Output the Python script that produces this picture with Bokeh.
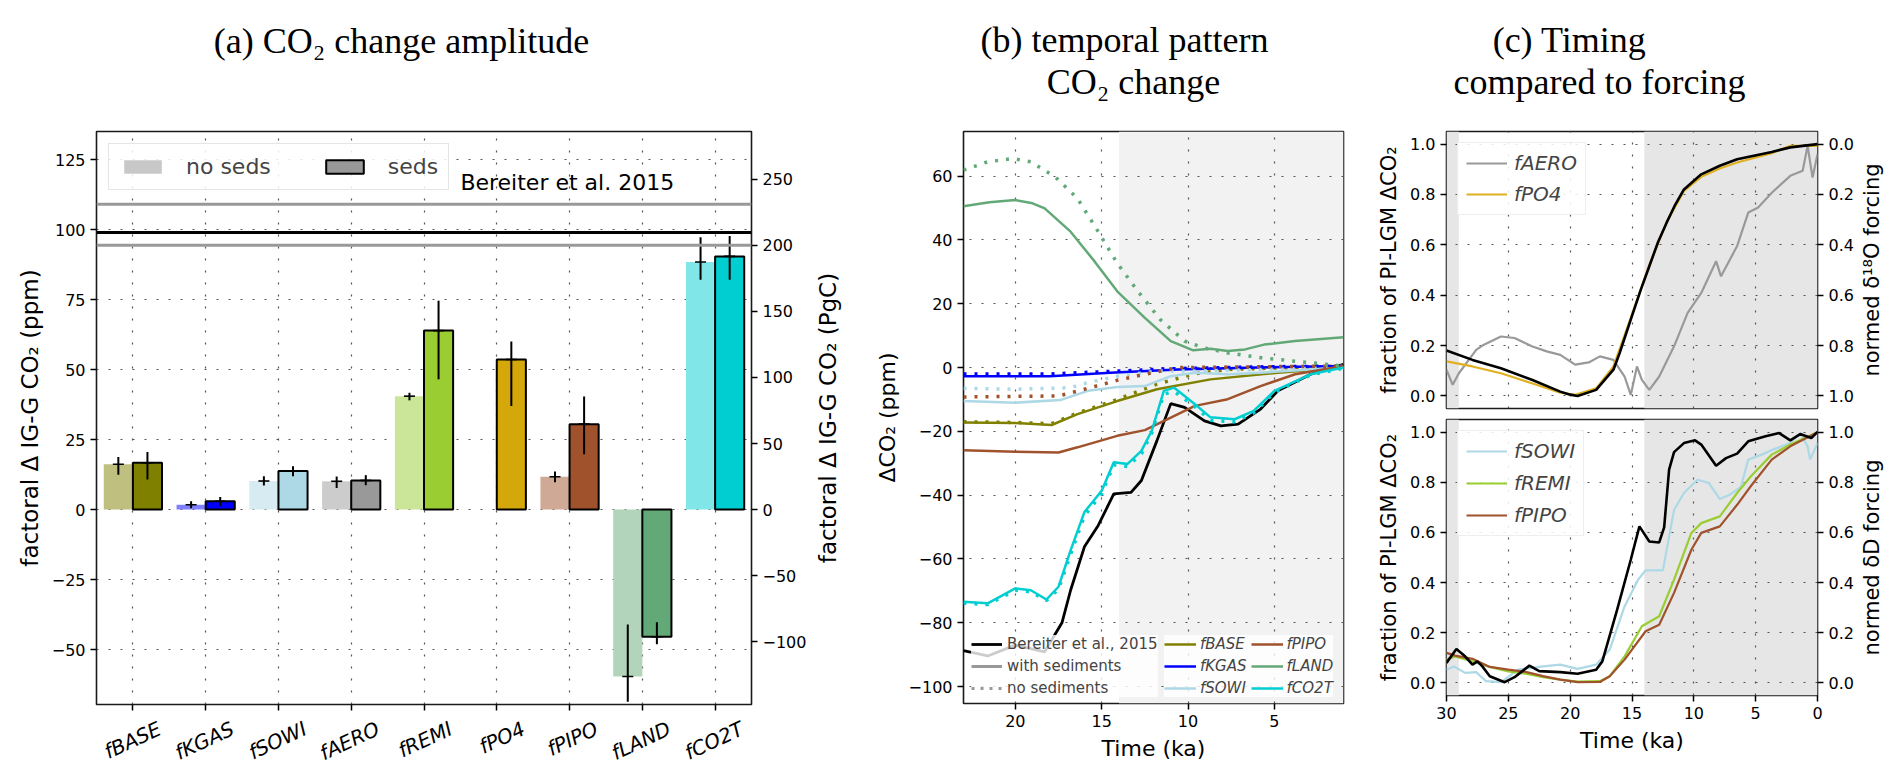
import math
from bokeh.plotting import figure
from bokeh.models import (Range1d, LinearAxis, FixedTicker, Legend, LegendItem,
                          BoxAnnotation, Label, ColumnDataSource, Span,
                          CustomJSTickFormatter, NumeralTickFormatter)
from bokeh.layouts import row, column
from bokeh.core.properties import value
from bokeh.embed import file_html
from bokeh.resources import INLINE

NAN = float("nan")

# ---------------- panel (a): factorial CO2 change amplitude ----------------
categories = ["fBASE", "fKGAS", "fSOWI", "fAERO", "fREMI", "fPO4", "fPIPO", "fLAND", "fCO2T"]
noseds_val = [16.2, 1.7, 10.2, 10.1, 40.5, NAN, 11.7, -59.6, 88.4]
noseds_lo = [12.4, 0.5, 8.6, 7.7, 39.0, NAN, 9.8, -68.6, 82.1]
noseds_hi = [18.8, 3.0, 11.9, 11.8, 41.7, NAN, 13.6, -41.0, 97.2]
seds_val = [16.7, 3.0, 13.8, 10.4, 63.9, 53.6, 30.5, -45.4, 90.4]
seds_lo = [10.7, 1.2, 11.9, 8.7, 46.5, 37.0, 19.8, -48.1, 82.1]
seds_hi = [20.6, 4.5, 15.5, 12.3, 74.6, 60.0, 40.4, -40.2, 97.7]
seds_colors = ["#808000", "#0000ff", "#add8e6", "#999999", "#9acd32", "#d4a80a", "#a0522d", "#63a977", "#00ced1"]
noseds_colors = ["#bfbf80", "#8080ff", "#d6ebf2", "#cccccc", "#cce699", "#e9d384", "#cfa896", "#b1d4bb", "#80e6e8"]
bereiter_mean = 98.9
bereiter_upper = 109.0
bereiter_lower = 94.4
ppm_to_pgc = 2.12
ticks_a_left = [-50, -25, 0, 25, 50, 75, 100, 125]
ticks_a_right = [-100, -50, 0, 50, 100, 150, 200, 250]

# ---------------- panel (b): temporal pattern (ka, ppm) ----------------
t_bereiter = [23, 21.6, 20, 18.3, 17.3, 16.8, 16, 15.2, 14.3, 13.3, 12.7, 11.8, 11, 10.2, 9.05, 8.1, 7.1, 5.8, 4.8, 2.9, 1.0]
co2_bereiter = [-88.7, -90.4, -87.0, -89.1, -80.0, -69.8, -56.2, -49.5, -39.6, -39.1, -35.4, -22.9, -11.3, -12.5, -16.7, -18.3, -17.7, -13.0, -7.3, -2.1, 1.0]

t_base_sed = [23, 20, 17.9, 16.4, 14.1, 11.8, 8.7, 4.8, 1.0]
base_sed = [-17.2, -17.4, -18.0, -14.6, -10.5, -6.8, -3.7, -1.6, 0.0]
t_base_nosed = [23, 20, 17.9, 16.4, 14.1, 11.8, 9.6, 7.7, 1.0]
base_nosed = [-17.0, -17.2, -17.6, -14.2, -10.0, -5.2, -1.9, -0.6, 0.5]

t_kgas_sed = [23, 18, 14.5, 10.6, 6, 1.0]
kgas_sed = [-2.7, -2.7, -1.6, -0.6, 0.0, 0.5]
t_kgas_nosed = [23, 18, 14.5, 10.6, 6, 1.0]
kgas_nosed = [-2.0, -2.0, -1.2, -0.3, 0.2, 0.5]

t_sowi_sed = [23, 20, 17.4, 15.8, 14.1, 12.5, 11, 9.6, 7.7, 5.8, 1.0]
sowi_sed = [-10.5, -11.0, -10.2, -7.3, -6.1, -5.8, -2.7, -1.6, -2.1, -1.6, 0.0]
t_sowi_nosed = [23, 20, 16.8, 15.8, 14.1, 11.8, 9.6, 1.0]
sowi_nosed = [-6.5, -6.8, -6.3, -4.7, -2.7, -1.1, -1.1, 0.0]

t_pipo_sed = [23, 20, 17.5, 16.4, 14.1, 12.5, 11, 9.6, 7.7, 5.8, 3.8, 1.0]
pipo_sed = [-25.9, -26.4, -26.6, -25.0, -21.4, -19.6, -15.7, -12.0, -9.9, -5.8, -2.1, 0.5]
t_pipo_nosed = [23, 17.5, 16, 14.1, 12.5, 10.6, 1.0]
pipo_nosed = [-9.2, -8.9, -6.8, -4.0, -2.1, 0.0, 0.5]

t_land_sed = [23, 21.5, 20, 19, 18.3, 16.8, 15.4, 14.1, 12.5, 11.0, 9.7, 8.7, 7.7, 6.7, 5.6, 3.8, 1.0]
land_sed = [50.6, 51.8, 52.5, 51.5, 49.9, 42.6, 33.2, 23.9, 15.6, 8.3, 5.4, 5.9, 5.2, 5.7, 7.2, 8.3, 9.5]
t_land_nosed = [23, 21.6, 20.15, 19.1, 17.7, 16.4, 15.2, 14.1, 12.9, 11.6, 10.2, 9.1, 7.7, 5.8, 3.8, 1.0]
land_nosed = [61.9, 64.5, 65.5, 64.5, 59.8, 53.0, 42.6, 32.7, 23.9, 15.0, 8.3, 6.2, 4.6, 3.1, 2.0, 0.5]

t_co2t_sed = [23, 21.6, 20, 19.1, 18.2, 17.5, 16.8, 16, 15, 14.3, 13.5, 12.7, 12.1, 11.4, 10.8, 9.6, 8.7, 7.3, 6.2, 5, 2.9, 1.0]
co2t_sed = [-73.4, -73.9, -69.2, -69.8, -72.7, -68.7, -57.3, -45.3, -38.6, -29.7, -30.2, -26.1, -19.8, -7.3, -6.3, -11.5, -15.6, -16.2, -13.6, -7.3, -2.1, 0.0]
t_co2t_nosed = [23, 21.6, 20, 19.1, 18.2, 17.5, 16.8, 16, 15, 14.3, 13.5, 12.7, 12.1, 11.4, 10.8, 9.6, 8.7, 7.3, 6.2, 5, 2.9, 1.0]
co2t_nosed = [-73.8, -74.3, -69.8, -70.3, -73.0, -69.5, -58.5, -46.5, -39.5, -30.5, -31.0, -27.0, -20.5, -8.3, -7.5, -12.3, -16.5, -17.0, -14.2, -7.8, -2.3, -0.2]

ticks_b_x = [20, 15, 10, 5]
ticks_b_y = [-100, -80, -60, -40, -20, 0, 20, 40, 60]

# ---------------- panel (c): timing compared to forcing ----------------
t_d18o = [30, 27.9, 25.6, 23.1, 20.8, 20.0, 19.4, 17.9, 16.5, 16.0, 15.1, 14.3, 13.6, 12.9, 12.2, 11.5, 10.8, 9.4, 7.9, 6.5, 3.7, 2.2, 0]
d18o_normed = [0.82, 0.857, 0.89, 0.936, 0.983, 0.995, 1.0, 0.976, 0.896, 0.83, 0.697, 0.58, 0.485, 0.39, 0.312, 0.24, 0.18, 0.12, 0.086, 0.06, 0.031, 0.013, 0.0]
t_po4 = [30, 27.9, 25.6, 23.1, 20.8, 19.6, 17.9, 16.5, 15.1, 13.6, 12.2, 10.8, 9.4, 7.9, 6.5, 3.7, 2.2, 0]
frac_po4 = [0.137, 0.117, 0.09, 0.05, 0.013, 0.004, 0.03, 0.117, 0.31, 0.52, 0.69, 0.814, 0.87, 0.903, 0.927, 0.964, 0.993, 0.993]
t_aero = [30, 29.5, 29.0, 28.2, 27.6, 27.1, 25.6, 24.5, 23.1, 21.9, 20.8, 19.6, 18.5, 17.6, 16.5, 15.6, 15.1, 14.6, 14.2, 13.6, 12.8, 11.6, 10.5, 9.4, 8.2, 7.8, 6.5, 5.6, 4.8, 3.7, 2.2, 1.2, 0.8, 0.4, 0]
frac_aero = [0.104, 0.044, 0.09, 0.143, 0.183, 0.2, 0.236, 0.23, 0.197, 0.177, 0.163, 0.124, 0.133, 0.157, 0.143, 0.077, 0.004, 0.117, 0.064, 0.024, 0.077, 0.197, 0.33, 0.409, 0.535, 0.475, 0.595, 0.728, 0.748, 0.807, 0.874, 0.894, 0.993, 0.867, 0.96]

t_dD = [30, 29.2, 28.5, 27.9, 27.5, 27.1, 26.5, 25.3, 24.5, 23.3, 22.5, 20.8, 19.4, 17.9, 17.4, 16.2, 15.1, 14.4, 13.6, 12.8, 12.4, 12.0, 11.6, 10.8, 9.9, 9.4, 8.2, 7.4, 6.5, 5.6, 4.2, 3.1, 2.2, 1.4, 0.5, 0]
dD_normed = [0.08, 0.135, 0.106, 0.073, 0.086, 0.066, 0.027, 0.003, 0.023, 0.069, 0.047, 0.043, 0.037, 0.053, 0.086, 0.292, 0.491, 0.624, 0.564, 0.56, 0.62, 0.85, 0.92, 0.956, 0.967, 0.95, 0.866, 0.896, 0.914, 0.963, 0.983, 0.996, 0.967, 0.992, 0.976, 1.0]
t_sowi_c = [30, 29.4, 28.5, 27.6, 26.8, 25.6, 24.2, 22.2, 20.8, 19.4, 17.9, 16.8, 15.6, 14.5, 13.9, 12.5, 11.6, 10.8, 9.7, 8.8, 7.9, 7.1, 6.2, 5.6, 4.5, 3.6, 2.2, 1.4, 0.8, 0.6, 0]
frac_sowi = [0.053, 0.066, 0.04, 0.043, 0.007, 0.003, 0.053, 0.066, 0.073, 0.056, 0.073, 0.133, 0.305, 0.412, 0.449, 0.449, 0.69, 0.757, 0.81, 0.797, 0.733, 0.75, 0.781, 0.89, 0.91, 0.93, 0.956, 0.996, 0.943, 0.89, 0.956]
t_remi_c = [30, 29.3, 27.9, 26.5, 25.0, 23.6, 22.2, 20.8, 19.4, 17.6, 16.8, 15.6, 14.2, 12.8, 11.6, 10.2, 9.4, 7.9, 6.5, 5.4, 3.7, 2.2, 0]
frac_remi = [0.093, 0.106, 0.086, 0.064, 0.046, 0.037, 0.023, 0.013, 0.005, 0.007, 0.027, 0.106, 0.226, 0.266, 0.412, 0.598, 0.637, 0.664, 0.757, 0.823, 0.91, 0.95, 0.999]
t_pipo_c = [30, 29.3, 27.9, 26.5, 25.0, 23.6, 22.2, 20.8, 19.4, 17.6, 16.8, 15.6, 13.9, 12.8, 11.6, 10.2, 9.4, 7.9, 6.5, 5.4, 3.7, 2.2, 0]
frac_pipo = [0.12, 0.109, 0.096, 0.064, 0.053, 0.044, 0.027, 0.013, 0.003, 0.004, 0.027, 0.093, 0.206, 0.232, 0.359, 0.531, 0.598, 0.624, 0.71, 0.784, 0.89, 0.943, 0.999]

ticks_c_x = [30, 25, 20, 15, 10, 5, 0]
ticks_c_y = [0.0, 0.2, 0.4, 0.6, 0.8, 1.0]

# ============================ helpers ============================
MINUS_FMT = "return tick < 0 ? '\u2212' + Math.abs(tick) : String(tick);"


def style_axes(p, tick_size="16px", label_size="22px"):
    for ax in p.axis:
        ax.axis_line_color = None
        ax.major_tick_line_color = "black"
        ax.major_tick_line_width = 1.5
        ax.major_tick_out = 6
        ax.major_tick_in = 0
        ax.minor_tick_line_color = None
        ax.major_label_text_font = "DejaVu Sans"
        ax.major_label_text_font_size = tick_size
        ax.major_label_text_color = "black"
        ax.major_label_standoff = 5
        ax.axis_label_text_font = "DejaVu Sans"
        ax.axis_label_text_font_style = "normal"
        ax.axis_label_text_font_size = label_size
        ax.axis_label_text_color = "black"
        ax.axis_label_standoff = 6


def style_fig(p):
    p.outline_line_color = "#1a1a1a"
    p.outline_line_width = 1.6
    p.xgrid.grid_line_color = "#555555"
    p.ygrid.grid_line_color = "#555555"
    p.xgrid.grid_line_width = 1.2
    p.ygrid.grid_line_width = 1.2
    p.xgrid.grid_line_dash = "2 10"
    p.ygrid.grid_line_dash = "2 10"
    p.xgrid.level = "underlay"
    p.ygrid.level = "underlay"


def axis_title_strip(text, top, frame_h, bottom, left_border, standoff, size):
    """Narrow companion figure whose only content is a vertical axis title
    (reads bottom-to-top, like matplotlib's right-hand twin-axis label)."""
    f = figure(frame_width=1, frame_height=frame_h, x_range=Range1d(0, 1), y_range=Range1d(0, 1),
               min_border_left=left_border, min_border_right=0, min_border_top=top,
               min_border_bottom=bottom, toolbar_location=None, output_backend="svg")
    f.xaxis.visible = False
    f.xgrid.visible = False
    f.ygrid.visible = False
    f.outline_line_color = None
    ax = f.yaxis[0]
    ax.ticker = FixedTicker(ticks=[])
    ax.major_label_text_font_size = "0px"
    ax.major_tick_out = 0
    ax.major_tick_in = 0
    ax.minor_tick_out = 0
    ax.axis_line_color = None
    ax.axis_label = text
    ax.axis_label_standoff = standoff
    ax.axis_label_text_font = "DejaVu Sans"
    ax.axis_label_text_font_style = "normal"
    ax.axis_label_text_font_size = size
    ax.axis_label_text_color = "black"
    return f


# ============================ titles strip ============================
TW, TH = 1876, 129
pt = figure(width=TW, height=TH, x_range=Range1d(0, TW), y_range=Range1d(TH, 0),
            min_border=0, toolbar_location=None, output_backend="svg",
            x_axis_type=None, y_axis_type=None)
pt.outline_line_color = None
pt.xgrid.visible = False
pt.ygrid.visible = False
title_src = ColumnDataSource(dict(
    x=[401, 1124, 1133, 1569, 1599],
    y=[40, 39, 81, 39, 81],
    text=["(a) CO\u2082 change amplitude", "(b) temporal pattern", "CO\u2082 change",
          "(c) Timing", "compared to forcing"]))
pt.text(x="x", y="y", text="text", source=title_src, text_font=value("Liberation Serif"),
        text_font_size="36px", text_align="center", text_baseline="alphabetic", text_color="black")

# ============================ panel (a) ============================
ya = (-69.6, 135.0)
FA_W, FA_H = 655, 573
pa = figure(frame_width=FA_W, frame_height=FA_H, x_range=Range1d(-0.5, len(categories) - 0.5),
            y_range=Range1d(*ya), min_border_left=96, min_border_right=57,
            min_border_top=2, min_border_bottom=71, toolbar_location=None, output_backend="svg")
pa.extra_y_ranges = {"pgc": Range1d(ya[0] * ppm_to_pgc, ya[1] * ppm_to_pgc)}
right_a = LinearAxis(y_range_name="pgc", ticker=FixedTicker(ticks=ticks_a_right),
                     formatter=CustomJSTickFormatter(code=MINUS_FMT))
pa.add_layout(right_a, "right")
idx = list(range(len(categories)))
# rotated category names: Bokeh anchors them by their right end, so shift that end
# by half a rotated label to centre each name under its tick
name_axis = LinearAxis(ticker=FixedTicker(ticks=[i + 0.37 for i in idx]),
                       formatter=CustomJSTickFormatter(args=dict(names=categories),
                                                       code="return names[index];"))
pa.add_layout(name_axis, "below")
pa.yaxis[0].ticker = FixedTicker(ticks=ticks_a_left)
pa.yaxis[0].formatter = CustomJSTickFormatter(code=MINUS_FMT)
pa.yaxis[0].axis_label = "factoral \u0394 IG-G CO\u2082 (ppm)"
pa.xaxis[0].ticker = FixedTicker(ticks=idx)
pa.xaxis[0].formatter = CustomJSTickFormatter(code="return '';")
style_fig(pa)
style_axes(pa, "16px", "23px")
pa.xaxis[0].major_label_text_font_size = "0px"
pa.xaxis[0].major_label_standoff = 0
name_axis.major_tick_out = 0
name_axis.major_tick_line_color = None
name_axis.major_label_orientation = math.radians(25)
name_axis.major_label_text_font_style = "italic"
name_axis.major_label_text_font_size = "20px"
name_axis.major_label_standoff = 17

src_a = ColumnDataSource(dict(
    xn=[i - 0.2 for i in idx], xs=[i + 0.2 for i in idx],
    nv=noseds_val, nlo=noseds_lo, nhi=noseds_hi,
    sv=seds_val, slo=seds_lo, shi=seds_hi,
    nc=noseds_colors, sc=seds_colors))
pa.vbar(x="xn", top="nv", bottom=0, width=0.4, fill_color="nc", line_color=None, source=src_a)
pa.vbar(x="xs", top="sv", bottom=0, width=0.4, fill_color="sc", line_color="black",
        line_width=2, source=src_a)
pa.segment(x0="xn", y0="nlo", x1="xn", y1="nhi", line_color="black", line_width=2, source=src_a)
pa.segment(x0="xs", y0="slo", x1="xs", y1="shi", line_color="black", line_width=2, source=src_a)
pa.scatter(x="xn", y="nv", marker="dash", size=11, line_color="black", line_width=1.6, source=src_a)
pa.scatter(x="xs", y="sv", marker="dash", size=11, line_color="black", line_width=1.6, source=src_a)

pa.add_layout(Span(location=bereiter_upper, dimension="width", line_color="#999999", line_width=3))
pa.add_layout(Span(location=bereiter_lower, dimension="width", line_color="#999999", line_width=3))
pa.add_layout(Span(location=bereiter_mean, dimension="width", line_color="black", line_width=3))
pa.add_layout(Label(x=4.5, y=bereiter_upper + 3.3, text="Bereiter et al. 2015",
                    text_font="DejaVu Sans", text_font_size="22px", text_color="black",
                    text_baseline="bottom", text_align="left"))

r_leg_n = pa.vbar(x=[NAN], top=[NAN], width=0.4, fill_color="#c8c8c8", line_color=None)
r_leg_s = pa.vbar(x=[NAN], top=[NAN], width=0.4, fill_color="#999999", line_color="black", line_width=2)
leg_a = Legend(items=[LegendItem(label="no seds", renderers=[r_leg_n]),
                      LegendItem(label="seds", renderers=[r_leg_s])],
               orientation="horizontal", location="top_left", margin=12,
               glyph_width=47, glyph_height=17, label_standoff=20, spacing=50, padding=10,
               label_text_font="DejaVu Sans", label_text_font_size="22px",
               border_line_color="#cccccc", border_line_width=1.5, background_fill_alpha=0.85)
pa.add_layout(leg_a)

# right-hand axis title of panel (a)
ra = axis_title_strip("factoral \u0394 IG-G CO\u2082 (PgC)", 2, FA_H, 71, 61, 30, "23px")

# ============================ panel (b) ============================
yb = (-105.3, 74.0)
pb = figure(frame_width=380, frame_height=572, x_range=Range1d(23, 1.0), y_range=Range1d(*yb),
            min_border_left=89, min_border_right=31, min_border_top=2, min_border_bottom=72,
            toolbar_location=None, output_backend="svg")
pb.xaxis.ticker = FixedTicker(ticks=ticks_b_x)
pb.yaxis.ticker = FixedTicker(ticks=ticks_b_y)
pb.yaxis.formatter = CustomJSTickFormatter(code=MINUS_FMT)
pb.xaxis.axis_label = "Time (ka)"
pb.yaxis.axis_label = "\u0394CO\u2082 (ppm)"
style_fig(pb)
style_axes(pb, "16px", "22px")
pb.add_layout(BoxAnnotation(left=14, right=1.0, fill_color="#f2f2f2", fill_alpha=1.0,
                            line_color=None, level="image"))

r_ber = pb.line(t_bereiter, co2_bereiter, line_color="black", line_width=2.8)
series_b = [
    ("fBASE", "#808000", t_base_sed, base_sed, t_base_nosed, base_nosed),
    ("fKGAS", "#0000ff", t_kgas_sed, kgas_sed, t_kgas_nosed, kgas_nosed),
    ("fSOWI", "#add8e6", t_sowi_sed, sowi_sed, t_sowi_nosed, sowi_nosed),
    ("fPIPO", "#a0522d", t_pipo_sed, pipo_sed, t_pipo_nosed, pipo_nosed),
    ("fLAND", "#63a977", t_land_sed, land_sed, t_land_nosed, land_nosed),
    ("fCO2T", "#00ced1", t_co2t_sed, co2t_sed, t_co2t_nosed, co2t_nosed),
]
legend_b_items = []
for name, col, ts, vs, tn, vn in series_b:
    r = pb.line(ts, vs, line_color=col, line_width=2.5)
    pb.line(tn, vn, line_color=col, line_width=3.5, line_dash="3 8")
    legend_b_items.append(LegendItem(label=name, renderers=[r]))

r_with = pb.line([NAN], [NAN], line_color="#999999", line_width=3)
r_without = pb.line([NAN], [NAN], line_color="#999999", line_width=3, line_dash="3 6")
leg_b1 = Legend(items=[LegendItem(label="Bereiter et al., 2015", renderers=[r_ber]),
                       LegendItem(label="with sediments", renderers=[r_with]),
                       LegendItem(label="no sediments", renderers=[r_without])],
                location=(8, 6), margin=0, orientation="vertical",
                glyph_width=31, glyph_height=18, label_height=18, label_standoff=5,
                spacing=4, padding=5, label_text_font="DejaVu Sans", label_text_font_size="15px",
                border_line_color=None, background_fill_alpha=0.8)
leg_b2 = Legend(items=legend_b_items, location=(201, 6), margin=0, orientation="vertical", nrows=3,
                glyph_width=32, glyph_height=18, label_height=18, label_standoff=4,
                spacing=4, padding=5, label_text_font="DejaVu Sans", label_text_font_size="15px",
                label_text_font_style="italic",
                border_line_color=None, background_fill_alpha=0.8)
pb.add_layout(leg_b1)
pb.add_layout(leg_b2)

# ============================ panel (c) ============================
yc = (-0.05, 1.05)
FC_W = 371
c1 = figure(frame_width=FC_W, frame_height=277, x_range=Range1d(30, 0), y_range=Range1d(*yc),
            min_border_left=67, min_border_right=38, min_border_top=2, min_border_bottom=5,
            toolbar_location=None, output_backend="svg")
c1.extra_y_ranges = {"d18o": Range1d(yc[1], yc[0])}
right_c1 = LinearAxis(y_range_name="d18o", ticker=FixedTicker(ticks=ticks_c_y),
                      formatter=NumeralTickFormatter(format="0.0"))
c1.add_layout(right_c1, "right")
c1.xaxis.ticker = FixedTicker(ticks=ticks_c_x)
c1.xaxis.visible = False
c1.yaxis[0].ticker = FixedTicker(ticks=ticks_c_y)
c1.yaxis[0].formatter = NumeralTickFormatter(format="0.0")
c1.yaxis[0].axis_label = "fraction of PI-LGM \u0394CO\u2082"
style_fig(c1)
style_axes(c1, "16px", "21px")
c1.add_layout(BoxAnnotation(left=14, right=0, fill_color="#e6e6e6", fill_alpha=1.0,
                            line_color=None, level="image"))
c1.add_layout(BoxAnnotation(left=30, right=29, fill_color="#e6e6e6", fill_alpha=1.0,
                            line_color=None, level="image"))
r_aero = c1.line(t_aero, frac_aero, line_color="#999999", line_width=2.2)
r_po4 = c1.line(t_po4, frac_po4, line_color="#e0b020", line_width=2.2)
c1.line(t_d18o, d18o_normed, y_range_name="d18o", line_color="black", line_width=2.6)
leg_c1 = Legend(items=[LegendItem(label="fAERO", renderers=[r_aero]),
                       LegendItem(label="fPO4", renderers=[r_po4])],
                location="top_left", margin=11, glyph_width=41, glyph_height=22, label_height=22,
                label_standoff=7, spacing=7, padding=8,
                label_text_font="DejaVu Sans", label_text_font_size="20px", label_text_font_style="italic",
                border_line_color="#dddddd", border_line_width=1.2, background_fill_alpha=0.85)
c1.add_layout(leg_c1)
r1 = axis_title_strip("normed \u03b4\u00b9\u2078O forcing", 2, 277, 5, 29, 2, "21px")

c2 = figure(frame_width=FC_W, frame_height=276, x_range=Range1d(30, 0), y_range=Range1d(*yc),
            min_border_left=67, min_border_right=38, min_border_top=6, min_border_bottom=80,
            toolbar_location=None, output_backend="svg")
c2.extra_y_ranges = {"dD": Range1d(*yc)}
right_c2 = LinearAxis(y_range_name="dD", ticker=FixedTicker(ticks=ticks_c_y),
                      formatter=NumeralTickFormatter(format="0.0"))
c2.add_layout(right_c2, "right")
c2.xaxis.ticker = FixedTicker(ticks=ticks_c_x)
c2.xaxis.axis_label = "Time (ka)"
c2.yaxis[0].ticker = FixedTicker(ticks=ticks_c_y)
c2.yaxis[0].formatter = NumeralTickFormatter(format="0.0")
c2.yaxis[0].axis_label = "fraction of PI-LGM \u0394CO\u2082"
style_fig(c2)
style_axes(c2, "16px", "21px")
c2.xaxis.axis_label_text_font_size = "22px"
c2.add_layout(BoxAnnotation(left=14, right=0, fill_color="#e6e6e6", fill_alpha=1.0,
                            line_color=None, level="image"))
c2.add_layout(BoxAnnotation(left=30, right=29, fill_color="#e6e6e6", fill_alpha=1.0,
                            line_color=None, level="image"))
r_sowi = c2.line(t_sowi_c, frac_sowi, line_color="#add8e6", line_width=2.2)
r_remi = c2.line(t_remi_c, frac_remi, line_color="#9acd32", line_width=2.2)
r_pipo = c2.line(t_pipo_c, frac_pipo, line_color="#a0522d", line_width=2.2)
c2.line(t_dD, dD_normed, y_range_name="dD", line_color="black", line_width=2.6)
leg_c2 = Legend(items=[LegendItem(label="fSOWI", renderers=[r_sowi]),
                       LegendItem(label="fREMI", renderers=[r_remi]),
                       LegendItem(label="fPIPO", renderers=[r_pipo])],
                location="top_left", margin=11, glyph_width=41, glyph_height=22, label_height=22,
                label_standoff=7, spacing=8, padding=8,
                label_text_font="DejaVu Sans", label_text_font_size="20px", label_text_font_style="italic",
                border_line_color="#dddddd", border_line_width=1.2, background_fill_alpha=0.85)
c2.add_layout(leg_c2)
r2 = axis_title_strip("normed \u03b4D forcing", 6, 276, 80, 29, 2, "21px")

layout = column(pt, row(pa, ra, pb, column(c1, c2), column(r1, r2)))
open("out.html", "w").write(file_html(layout, INLINE))
